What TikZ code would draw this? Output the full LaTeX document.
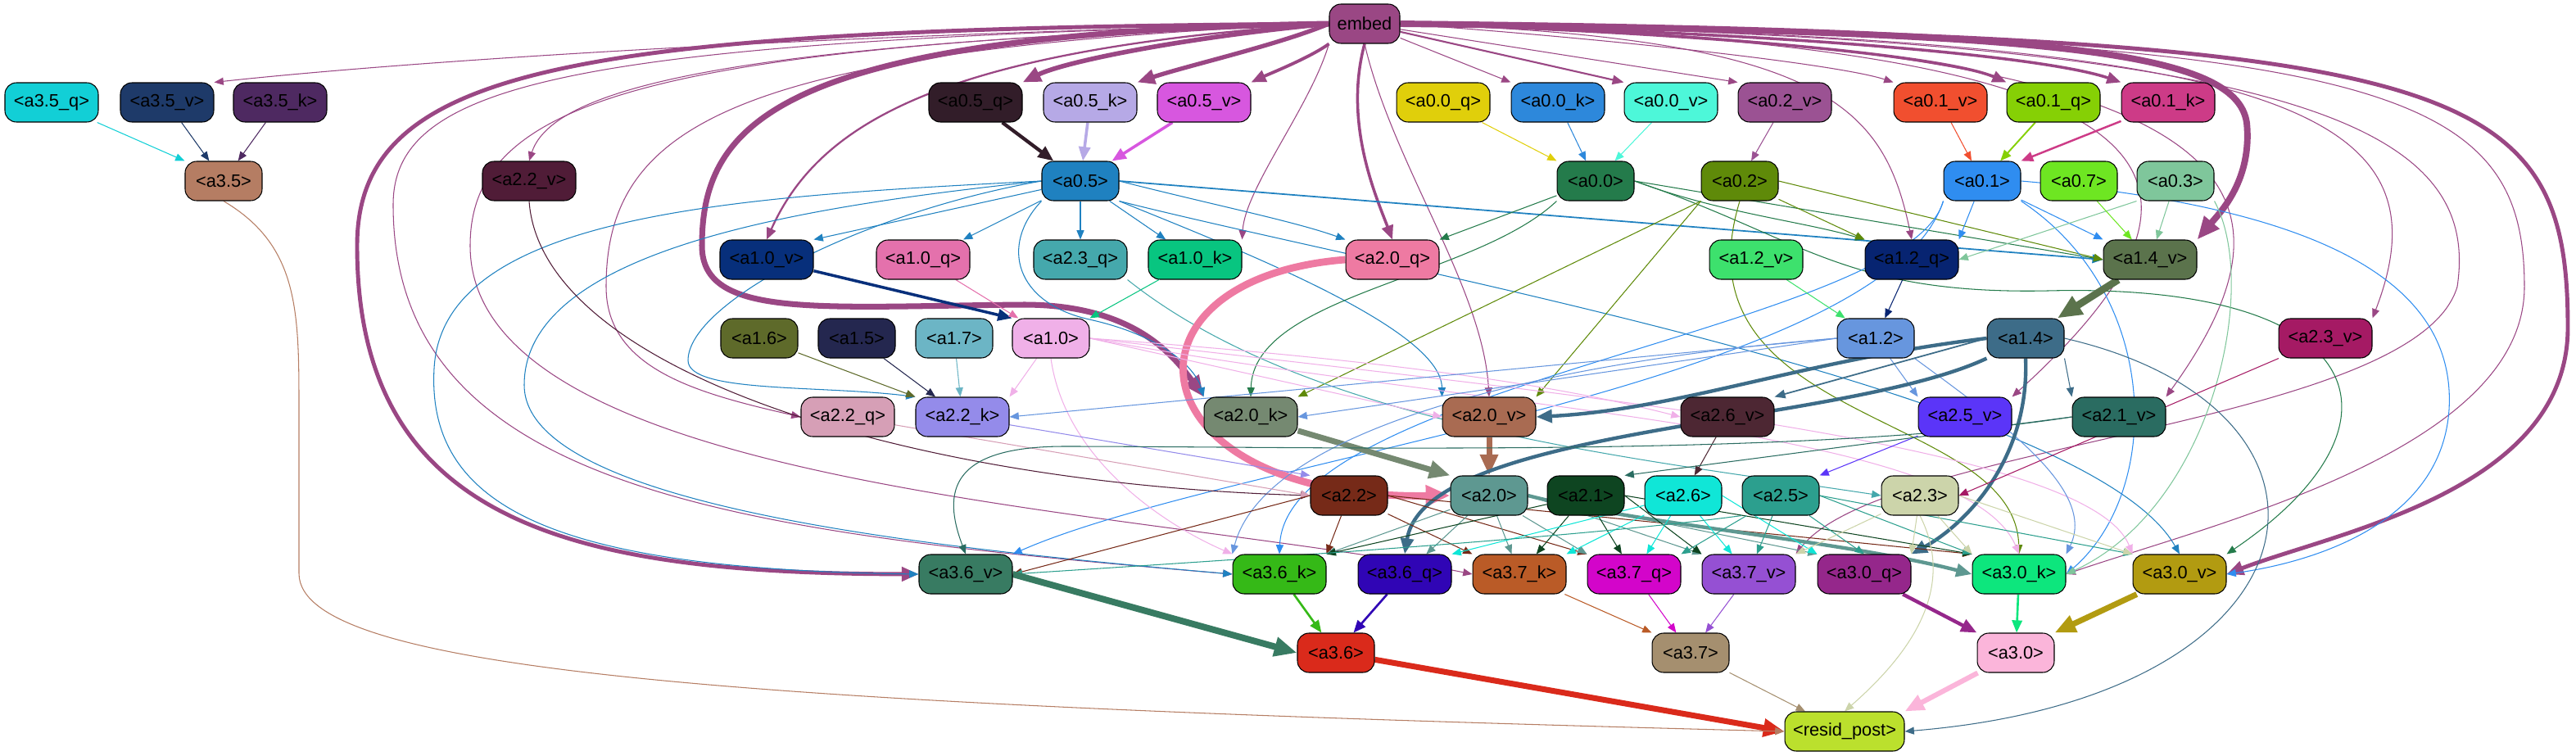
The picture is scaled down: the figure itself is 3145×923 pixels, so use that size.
\documentclass[tikz,border=0pt]{standalone}
\usepackage{fontspec}
\usepackage{tikz}
\usetikzlibrary{arrows.meta}
\newfontfamily\hdfam{Liberation Sans}
\newcommand{\hdfont}{\hdfam\fontsize{12.4}{14}\selectfont}
\pgfdeclarelayer{bg}
\pgfsetlayers{bg,main}
\definecolor{cembed}{HTML}{9A4784}
\definecolor{ca35q}{HTML}{12CFD6}
\definecolor{ca35v}{HTML}{1E3A69}
\definecolor{ca35k}{HTML}{4E2961}
\definecolor{ca35}{HTML}{B57D63}
\definecolor{ca22v}{HTML}{501C37}
\definecolor{ca05q}{HTML}{321D29}
\definecolor{ca05k}{HTML}{B6A9E6}
\definecolor{ca05v}{HTML}{D757DF}
\definecolor{ca00q}{HTML}{E0CF0B}
\definecolor{ca00k}{HTML}{2D88DB}
\definecolor{ca00v}{HTML}{4DF7D9}
\definecolor{ca02v}{HTML}{9B5293}
\definecolor{ca01v}{HTML}{F14F2F}
\definecolor{ca01q}{HTML}{86D005}
\definecolor{ca01k}{HTML}{CD3B87}
\definecolor{ca05}{HTML}{1F81C0}
\definecolor{ca00}{HTML}{247B4B}
\definecolor{ca02}{HTML}{5F8A09}
\definecolor{ca01}{HTML}{2F8DF0}
\definecolor{ca07}{HTML}{6EE622}
\definecolor{ca03}{HTML}{7FC69B}
\definecolor{ca10v}{HTML}{072F7B}
\definecolor{ca10q}{HTML}{E471AC}
\definecolor{ca23q}{HTML}{45A8AC}
\definecolor{ca10k}{HTML}{08C580}
\definecolor{ca20q}{HTML}{EE7AA2}
\definecolor{ca12v}{HTML}{3DE16D}
\definecolor{ca12q}{HTML}{072471}
\definecolor{ca14v}{HTML}{5B734C}
\definecolor{ca16}{HTML}{5E6A2A}
\definecolor{ca15}{HTML}{24274F}
\definecolor{ca17}{HTML}{6CB5C5}
\definecolor{ca10}{HTML}{F0B0E8}
\definecolor{ca12}{HTML}{6796DE}
\definecolor{ca14}{HTML}{3D6C88}
\definecolor{ca23v}{HTML}{A51A64}
\definecolor{ca22q}{HTML}{D69FB6}
\definecolor{ca22k}{HTML}{948BEA}
\definecolor{ca20k}{HTML}{758971}
\definecolor{ca20v}{HTML}{A96B52}
\definecolor{ca26v}{HTML}{4D2733}
\definecolor{ca25v}{HTML}{5B35F8}
\definecolor{ca21v}{HTML}{2A6C61}
\definecolor{ca22}{HTML}{762A18}
\definecolor{ca20}{HTML}{5E9891}
\definecolor{ca21}{HTML}{0E4521}
\definecolor{ca26}{HTML}{10E6D7}
\definecolor{ca25}{HTML}{2C9F8E}
\definecolor{ca23}{HTML}{CCD4AA}
\definecolor{ca36v}{HTML}{387B62}
\definecolor{ca36k}{HTML}{35B917}
\definecolor{ca36q}{HTML}{3005B5}
\definecolor{ca37k}{HTML}{BA5B27}
\definecolor{ca37q}{HTML}{D305CA}
\definecolor{ca37v}{HTML}{9550D3}
\definecolor{ca30q}{HTML}{95278B}
\definecolor{ca30k}{HTML}{0DE67D}
\definecolor{ca30v}{HTML}{B29B11}
\definecolor{ca36}{HTML}{DA2A1B}
\definecolor{ca37}{HTML}{A58F6F}
\definecolor{ca30}{HTML}{FBB5DA}
\definecolor{cresid}{HTML}{BBE02D}

\begin{document}
\begin{tikzpicture}[x=0.02cm,y=-0.02cm,
  hd/.style={draw=black,line width=0.6pt,rounded corners=8pt,minimum width=2.28cm,
    minimum height=0.96cm,inner sep=0pt,font=\hdfont},
  sh/.style={hd,minimum width=1.88cm},
  ed/.style={line width=0.6pt,-{Triangle[length=5pt 2.4,width=4pt 2]}}]
  \useasboundingbox (0,0) rectangle (3145,923);

  % input
  \node[hd,fill=cembed,minimum width=1.72cm] (embed) at (1666,29) {embed};

  % q/k/v of layer 0 and 3.5
  \node[hd,fill=ca35q] (a35q) at (63,125) {<a3.5\_q>};
  \node[hd,fill=ca35v] (a35v) at (204,125) {<a3.5\_v>};
  \node[hd,fill=ca35k] (a35k) at (342,125) {<a3.5\_k>};
  \node[hd,fill=ca05q] (a05q) at (1191,125) {<a0.5\_q>};
  \node[hd,fill=ca05k] (a05k) at (1331,125) {<a0.5\_k>};
  \node[hd,fill=ca05v] (a05v) at (1470,125) {<a0.5\_v>};
  \node[hd,fill=ca00q] (a00q) at (1762,125) {<a0.0\_q>};
  \node[hd,fill=ca00k] (a00k) at (1902,125) {<a0.0\_k>};
  \node[hd,fill=ca00v] (a00v) at (2040,125) {<a0.0\_v>};
  \node[hd,fill=ca02v] (a02v) at (2179,125) {<a0.2\_v>};
  \node[hd,fill=ca01v] (a01v) at (2369,125) {<a0.1\_v>};
  \node[hd,fill=ca01q] (a01q) at (2507,125) {<a0.1\_q>};
  \node[hd,fill=ca01k] (a01k) at (2647,125) {<a0.1\_k>};

  % heads
  \node[sh,fill=ca35] (a35) at (273,221) {<a3.5>};
  \node[hd,fill=ca22v] (a22v) at (646,221) {<a2.2\_v>};
  \node[sh,fill=ca05] (a05) at (1319,221) {<a0.5>};
  \node[sh,fill=ca00] (a00) at (1948,221) {<a0.0>};
  \node[sh,fill=ca02] (a02) at (2124,221) {<a0.2>};
  \node[sh,fill=ca01] (a01) at (2420,221) {<a0.1>};
  \node[sh,fill=ca07] (a07) at (2538,221) {<a0.7>};
  \node[sh,fill=ca03] (a03) at (2656,221) {<a0.3>};

  % layer 1 inputs
  \node[hd,fill=ca10v] (a10v) at (936,317) {<a1.0\_v>};
  \node[hd,fill=ca10q] (a10q) at (1127,317) {<a1.0\_q>};
  \node[hd,fill=ca23q] (a23q) at (1319,317) {<a2.3\_q>};
  \node[hd,fill=ca10k] (a10k) at (1459,317) {<a1.0\_k>};
  \node[hd,fill=ca20q] (a20q) at (1700,317) {<a2.0\_q>};
  \node[hd,fill=ca12v] (a12v) at (2144,317) {<a1.2\_v>};
  \node[hd,fill=ca12q] (a12q) at (2334,317) {<a1.2\_q>};
  \node[hd,fill=ca14v] (a14v) at (2625,317) {<a1.4\_v>};

  \node[sh,fill=ca16] (a16) at (927,413) {<a1.6>};
  \node[sh,fill=ca15] (a15) at (1046,413) {<a1.5>};
  \node[sh,fill=ca17] (a17) at (1165,413) {<a1.7>};
  \node[sh,fill=ca10] (a10) at (1283,413) {<a1.0>};
  \node[sh,fill=ca12] (a12) at (2290,413) {<a1.2>};
  \node[sh,fill=ca14] (a14) at (2473,413) {<a1.4>};
  \node[hd,fill=ca23v] (a23v) at (2839,413) {<a2.3\_v>};

  % layer 2
  \node[hd,fill=ca22q] (a22q) at (1035,509) {<a2.2\_q>};
  \node[hd,fill=ca22k] (a22k) at (1175,509) {<a2.2\_k>};
  \node[hd,fill=ca20k] (a20k) at (1527,509) {<a2.0\_k>};
  \node[hd,fill=ca20v] (a20v) at (1818,509) {<a2.0\_v>};
  \node[hd,fill=ca26v] (a26v) at (2109,509) {<a2.6\_v>};
  \node[hd,fill=ca25v] (a25v) at (2399,509) {<a2.5\_v>};
  \node[hd,fill=ca21v] (a21v) at (2587,509) {<a2.1\_v>};

  \node[sh,fill=ca22] (a22) at (1647,605) {<a2.2>};
  \node[sh,fill=ca20] (a20) at (1818,605) {<a2.0>};
  \node[sh,fill=ca21] (a21) at (1936,605) {<a2.1>};
  \node[sh,fill=ca26] (a26) at (2055,605) {<a2.6>};
  \node[sh,fill=ca25] (a25) at (2174,605) {<a2.5>};
  \node[sh,fill=ca23] (a23) at (2344,605) {<a2.3>};

  % layer 3
  \node[hd,fill=ca36v] (a36v) at (1179,701) {<a3.6\_v>};
  \node[hd,fill=ca36k] (a36k) at (1562,701) {<a3.6\_k>};
  \node[hd,fill=ca36q] (a36q) at (1715,701) {<a3.6\_q>};
  \node[hd,fill=ca37k] (a37k) at (1855,701) {<a3.7\_k>};
  \node[hd,fill=ca37q] (a37q) at (1995,701) {<a3.7\_q>};
  \node[hd,fill=ca37v] (a37v) at (2135,701) {<a3.7\_v>};
  \node[hd,fill=ca30q] (a30q) at (2276,701) {<a3.0\_q>};
  \node[hd,fill=ca30k] (a30k) at (2465,701) {<a3.0\_k>};
  \node[hd,fill=ca30v] (a30v) at (2661,701) {<a3.0\_v>};

  \node[sh,fill=ca36] (a36) at (1631,797) {<a3.6>};
  \node[sh,fill=ca37] (a37) at (2064,797) {<a3.7>};
  \node[sh,fill=ca30] (a30) at (2461,797) {<a3.0>};

  % output
  \node[hd,fill=cresid,minimum width=2.92cm] (resid) at (2252,893) {<resid\_post>};

  \begin{pgfonlayer}{bg}
  % from embed
  \draw[ed,cembed] (embed.west) .. controls (900,45) and (450,80) .. (a35v.north east);
  \draw[ed,cembed] (embed.west) .. controls (1000,50) and (680,90) .. (a22v.north);
  \draw[ed,cembed,line width=3.2pt] (embed.west) .. controls (1450,45) and (1300,75) .. (a05q.north east);
  \draw[ed,cembed,line width=3pt] (embed.west) .. controls (1560,55) and (1450,80) .. (a05k.north east);
  \draw[ed,cembed,line width=2.2pt] (embed.south west) .. controls (1600,70) and (1550,90) .. (a05v.north east);
  \draw[ed,cembed,line width=1.3pt] (embed.west) .. controls (1150,60) and (1000,150) .. (a10v.north);
  \draw[ed,cembed] (embed.south west) .. controls (1600,130) and (1520,230) .. (a10k.north east);
  \draw[ed,cembed,line width=2pt] (embed.south) .. controls (1640,150) and (1680,240) .. (a20q.north);
  \draw[ed,cembed] (embed.south) .. controls (1700,200) and (1810,350) .. (a20v.north);
  \draw[ed,cembed] (embed) -- (a00k.north west);
  \draw[ed,cembed,line width=1.2pt] (embed) -- (a00v.north west);
  \draw[ed,cembed] (embed) -- (a02v.north west);
  \draw[ed,cembed] (embed.east) .. controls (2000,50) and (2250,80) .. (a01v.north west);
  \draw[ed,cembed,line width=2pt] (embed.east) .. controls (2100,40) and (2380,70) .. (a01q.north west);
  \draw[ed,cembed,line width=2pt] (embed.east) .. controls (2200,40) and (2500,70) .. (a01k.north west);
  \draw[ed,cembed,line width=4.5pt] (embed.east) .. controls (2500,38) and (2730,60) .. (2743,150) .. controls (2750,220) and (2710,260) .. (a14v.north east);
  \draw[ed,cembed] (embed.east) .. controls (2230,45) and (2300,130) .. (a12q.north);
  \draw[ed,cembed] (embed.east) .. controls (2750,45) and (3000,120) .. (a23v.north east);
  \draw[ed,cembed] (embed.east) .. controls (2700,50) and (2850,200) .. (a21v.north east);
  \draw[ed,cembed] (embed.east) .. controls (2650,50) and (2770,200) .. (a25v.north east);
  \draw[ed,cembed,line width=2.8pt] (embed.east) .. controls (3000,45) and (3135,90) .. (3135,400) .. controls (3135,600) and (2850,650) .. (a30v.east);
  \draw[ed,cembed] (embed.east) .. controls (2900,45) and (3082,100) .. (3082,350) .. controls (3082,550) and (2700,640) .. (a30k.east);
  \draw[ed,cembed] (embed.east) .. controls (2800,45) and (3030,150) .. (3000,350) .. controls (2950,520) and (2300,540) .. (a37v.north east);
  \draw[ed,cembed,line width=2.8pt] (embed.west) .. controls (700,35) and (436,80) .. (436,300) .. controls (436,640) and (700,700) .. (a36v.west);
  \draw[ed,cembed,line width=4pt] (embed.west) .. controls (950,40) and (857,150) .. (857,300) .. controls (857,390) and (1000,374) .. (1250,372) .. controls (1380,372) and (1430,430) .. (a20k.north west);
  \draw[ed,cembed] (embed.west) .. controls (700,50) and (480,100) .. (480,250) .. controls (480,600) and (900,650) .. (a36k.west);
  \draw[ed,cembed] (embed.west) .. controls (800,55) and (574,120) .. (574,300) .. controls (574,600) and (1400,620) .. (a37k.west);
  \draw[ed,cembed] (embed.west) .. controls (900,60) and (740,150) .. (740,350) .. controls (740,450) and (850,480) .. (a22q.west);

  % q/k/v into heads
  \draw[ed,ca35q] (a35q) -- (a35.north west);
  \draw[ed,ca35v] (a35v) -- (a35);
  \draw[ed,ca35k] (a35k) -- (a35);
  \draw[ed,ca05q,line width=2.4pt] (a05q) -- (a05);
  \draw[ed,ca05k,line width=2pt] (a05k) -- (a05);
  \draw[ed,ca05v,line width=2pt] (a05v) -- (a05);
  \draw[ed,ca00q] (a00q) -- (a00);
  \draw[ed,ca00k] (a00k) -- (a00);
  \draw[ed,ca00v] (a00v) -- (a00);
  \draw[ed,ca02v] (a02v) -- (a02);
  \draw[ed,ca01v] (a01v) -- (a01);
  \draw[ed,ca01q,line width=1.1pt] (a01q) -- (a01);
  \draw[ed,ca01k,line width=1.4pt] (a01k) -- (a01.north east);

  % a0.5
  \draw[ed,ca05] (a05) -- (a10v.north east);
  \draw[ed,ca05] (a05) -- (a10q);
  \draw[ed,ca05] (a05) -- (a23q);
  \draw[ed,ca05] (a05) -- (a10k);
  \draw[ed,ca05] (a05.east) .. controls (1480,250) and (1580,270) .. (a20q.north west);
  \draw[ed,ca05,line width=1pt] (a05.east) -- (a14v.west);
  \draw[ed,ca05] (a05.west) .. controls (900,240) and (540,260) .. (530,450) .. controls (520,630) and (700,695) .. (a36v.west);
  \draw[ed,ca05] (a05.west) .. controls (1000,250) and (640,300) .. (640,470) .. controls (640,620) and (1150,670) .. (a36k.west);
  \draw[ed,ca05] (a05.west) .. controls (1050,260) and (840,370) .. (840,440) .. controls (840,480) and (1000,470) .. (a22k.north west);
  \draw[ed,ca05] (a05.south west) .. controls (1220,300) and (1240,370) .. (1330,390) .. controls (1420,410) and (1460,450) .. (a20k.north west);
  \draw[ed,ca05] (a05.south east) .. controls (1500,300) and (1760,400) .. (a20v.north west);
  \draw[ed,ca05] (a05.south east) .. controls (1700,330) and (2550,480) .. (a30v.north);

  % a0.0
  \draw[ed,ca00] (a00) -- (a20q.north east);
  \draw[ed,ca00] (a00.east) .. controls (2100,260) and (2200,270) .. (a12q.north west);
  \draw[ed,ca00] (a00.east) -- (a14v.west);
  \draw[ed,ca00] (a00.south west) .. controls (1800,340) and (1530,360) .. (a20k.north);
  \draw[ed,ca00] (a00.east) .. controls (2200,290) and (2250,360) .. (2500,355) .. controls (2900,345) and (2950,520) .. (a30v.north east);

  % a0.2
  \draw[ed,ca02] (a02) -- (a12q.north west);
  \draw[ed,ca02] (a02.east) -- (a14v.west);
  \draw[ed,ca02] (a02.south west) -- (a20k.north east);
  \draw[ed,ca02] (a02.south west) -- (a20v.north east);
  \draw[ed,ca02] (a02.south) .. controls (2040,520) and (2460,500) .. (a30k.north);

  % a0.1
  \draw[ed,ca01] (a01) -- (a12q.north east);
  \draw[ed,ca01] (a01) -- (a14v.north west);
  \draw[ed,ca01] (a01.south east) .. controls (2640,360) and (2640,600) .. (a30k.east);
  \draw[ed,ca01] (a01.east) .. controls (2800,250) and (3000,330) .. (2990,500) .. controls (2980,650) and (2800,690) .. (a30v.east);
  \draw[ed,ca01] (a01.south west) .. controls (2300,470) and (1500,560) .. (a36v.north east);
  \draw[ed,ca01] (a01.south west) .. controls (2330,400) and (1570,470) .. (a36k.north);

  % a0.3, a0.7
  \draw[ed,ca03] (a03) -- (a14v);
  \draw[ed,ca03] (a03.south west) -- (a12q.east);
  \draw[ed,ca03] (a03.south east) .. controls (2760,350) and (2700,620) .. (a30k.east);
  \draw[ed,ca07] (a07) -- (a14v);

  % layer 1
  \draw[ed,ca10v,line width=2pt] (a10v) -- (a10.north west);
  \draw[ed,ca10q] (a10q) -- (a10);
  \draw[ed,ca10k] (a10k) -- (a10.north east);
  \draw[ed,ca23q] (a23q.south east) .. controls (1600,520) and (2000,560) .. (a23.west);
  \draw[ed,ca20q,line width=5pt] (a20q.west) .. controls (1350,340) and (1380,610) .. (a20.west);
  \draw[ed,ca20k,line width=4pt] (a20k) -- (a20.north west);
  \draw[ed,ca20v,line width=4pt] (a20v) -- (a20);
  \draw[ed,ca12v] (a12v) -- (a12);
  \draw[ed,ca12q] (a12q) -- (a12);
  \draw[ed,ca14v,line width=5pt] (a14v) -- (a14);
  \draw[ed,ca16] (a16) -- (a22k.north west);
  \draw[ed,ca15] (a15) -- (a22k);
  \draw[ed,ca17] (a17) -- (a22k);

  % a1.0
  \draw[ed,ca10] (a10) -- (a22k.north east);
  \draw[ed,ca10] (a10.east) -- (a20v.west);
  \draw[ed,ca10] (a10.east) .. controls (1700,440) and (1900,470) .. (a26v.west);
  \draw[ed,ca10] (a10.south) .. controls (1300,560) and (1420,640) .. (a36k.north west);
  \draw[ed,ca10] (a10.east) .. controls (1800,500) and (2400,520) .. (a30k.north);
  \draw[ed,ca10] (a10.east) .. controls (1900,480) and (2550,540) .. (a30v.north west);

  % a1.2
  \draw[ed,ca12] (a12.west) -- (a22k.east);
  \draw[ed,ca12] (a12.west) -- (a20k.east);
  \draw[ed,ca12] (a12.west) .. controls (1900,440) and (1545,520) .. (a36k.north west);
  \draw[ed,ca12] (a12) -- (a25v.north west);
  \draw[ed,ca12] (a12.south east) .. controls (2450,520) and (2560,600) .. (a30k.north east);

  % a1.4
  \draw[ed,ca14,line width=2.5pt] (a14.west) .. controls (2200,440) and (2050,500) .. (a20v.east);
  \draw[ed,ca14,line width=1pt] (a14.west) -- (a26v.north east);
  \draw[ed,ca14,line width=2.5pt] (a14.south west) .. controls (2250,520) and (1740,520) .. (a36q.north);
  \draw[ed,ca14,line width=2.5pt] (a14.south) .. controls (2478,560) and (2400,640) .. (a30q.north east);
  \draw[ed,ca14] (a14.south east) -- (a21v.north west);
  \draw[ed,ca14] (a14.east) .. controls (2900,500) and (2850,850) .. (resid.east);

  % layer 2 inputs
  \draw[ed,ca23v] (a23v) -- (a23.east);
  \draw[ed,ca22v] (a22v.south) .. controls (660,450) and (1100,590) .. (a22.west);
  \draw[ed,ca22q] (a22q) -- (a22.west);
  \draw[ed,ca22k] (a22k) -- (a22.north west);
  \draw[ed,ca26v] (a26v) -- (a26);
  \draw[ed,ca25v] (a25v) -- (a25.north east);
  \draw[ed,ca21v] (a21v.west) -- (a21.north east);
  \draw[ed,ca21v] (a21v.west) .. controls (2200,560) and (1600,545) .. (1300,545) .. controls (1160,545) and (1150,600) .. (a36v.north);

  % layer 2 heads
  \draw[ed,ca22] (a22) -- (a36k.north east);
  \draw[ed,ca22] (a22.west) -- (a36v.east);
  \draw[ed,ca22] (a22) -- (a37k.north west);
  \draw[ed,ca22] (a22.east) -- (a37q.north west);
  \draw[ed,ca22] (a22.east) -- (a30k.north west);
  \draw[ed,ca20] (a20) -- (a36k.north east);
  \draw[ed,ca20] (a20) -- (a36q);
  \draw[ed,ca20] (a20) -- (a37k);
  \draw[ed,ca20] (a20) -- (a37q.north west);
  \draw[ed,ca20] (a20.east) -- (a37v.north west);
  \draw[ed,ca20,line width=2.5pt] (a20.east) .. controls (2000,640) and (2250,660) .. (a30k.west);
  \draw[ed,ca20] (a20.east) -- (a30q.north west);
  \draw[ed,ca21] (a21) -- (a36k.north east);
  \draw[ed,ca21] (a21) -- (a37k);
  \draw[ed,ca21] (a21) -- (a37q);
  \draw[ed,ca21] (a21.east) -- (a37v.north west);
  \draw[ed,ca21] (a21.east) -- (a30k.north west);
  \draw[ed,ca26] (a26) -- (a36q.north east);
  \draw[ed,ca26] (a26) -- (a37k.north east);
  \draw[ed,ca26] (a26) -- (a37q);
  \draw[ed,ca26] (a26) -- (a37v);
  \draw[ed,ca26] (a26.east) -- (a30q.north west);
  \draw[ed,ca25] (a25.south west) .. controls (1900,660) and (1400,690) .. (a36v.east);
  \draw[ed,ca25] (a25) -- (a37q.north east);
  \draw[ed,ca25] (a25) -- (a37v);
  \draw[ed,ca25] (a25) -- (a30q.north);
  \draw[ed,ca25] (a25.east) -- (a30k.north west);
  \draw[ed,ca25] (a25.east) -- (a30v.north west);
  \draw[ed,ca23] (a23) -- (a37v.north east);
  \draw[ed,ca23] (a23) -- (a30q.north east);
  \draw[ed,ca23] (a23) -- (a30k.north west);
  \draw[ed,ca23] (a23.east) -- (a30v.north west);
  \draw[ed,ca23] (a23.south) .. controls (2390,720) and (2330,800) .. (resid.north);

  % layer 3
  \draw[ed,ca36v,line width=4.5pt] (a36v.east) -- (a36.west);
  \draw[ed,ca36k,line width=1.5pt] (a36k) -- (a36);
  \draw[ed,ca36q,line width=1.5pt] (a36q) -- (a36);
  \draw[ed,ca37k] (a37k) -- (a37.north west);
  \draw[ed,ca37q] (a37q) -- (a37);
  \draw[ed,ca37v] (a37v) -- (a37);
  \draw[ed,ca30q,line width=2.5pt] (a30q) -- (a30.north west);
  \draw[ed,ca30k,line width=1.5pt] (a30k) -- (a30);
  \draw[ed,ca30v,line width=4pt] (a30v) -- (a30.north east);
  \draw[ed,ca36,line width=4pt] (a36) -- (resid.west);
  \draw[ed,ca37] (a37) -- (resid);
  \draw[ed,ca30,line width=3.5pt] (a30) -- (resid.north east);
  \draw[ed,ca35] (a35.south) .. controls (365,300) and (365,380) .. (365,500) -- (365,700) .. controls (365,820) and (900,860) .. (resid.west);
  \end{pgfonlayer}
\end{tikzpicture}
\end{document}
